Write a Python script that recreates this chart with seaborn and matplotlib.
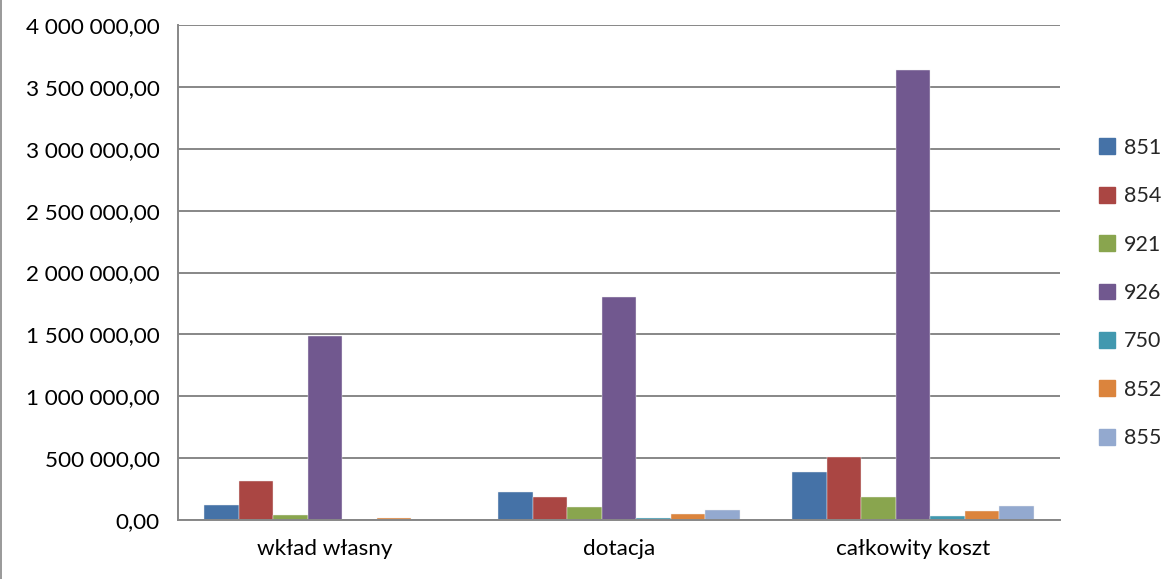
import matplotlib
matplotlib.use("Agg")
import matplotlib.pyplot as plt
import matplotlib.ticker as mticker
from matplotlib.lines import Line2D
import seaborn as sns
import pandas as pd

categories = ["wkład własny", "dotacja", "całkowity koszt"]
series = ["851", "854", "921", "926", "750", "852", "855"]
v851 = [121000, 226000, 388000]
v854 = [313000, 186000, 512000]
v921 = [38000, 105000, 188000]
v926 = [1487000, 1802000, 3636000]
v750 = [0, 19000, 30000]
v852 = [13000, 48000, 73000]
v855 = [0, 83000, 116000]
colors = ["#4572A7", "#AA4643", "#89A54E", "#71588F", "#4198AF", "#DB843D", "#93A9CF"]

values = [v851, v854, v921, v926, v750, v852, v855]
rows = []
for s, vals in zip(series, values):
    for c, v in zip(categories, vals):
        rows.append({"cat": c, "ser": s, "val": v})
df = pd.DataFrame(rows)

sns.set_style("white")
plt.rcParams['font.family'] = ['Lato', 'DejaVu Sans']
FS = 16.2

fig = plt.figure(figsize=(11.66, 5.79), dpi=100)
ax = fig.add_axes([178/1166, 1-520/579, (1060-178)/1166, (520-25)/579])

sns.barplot(data=df, x="cat", y="val", hue="ser", hue_order=series, order=categories,
            palette=colors, width=0.82, gap=0, ax=ax, errorbar=None,
            edgecolor="#f0f0f0", linewidth=0.3, saturation=1)

grid_c = "#878787"
ax.set_ylim(0, 4000000)
ax.set_xlim(-0.5, 2.5)
ax.yaxis.set_major_locator(mticker.MultipleLocator(500000))
def fmt(v, pos):
    s = f"{v:,.2f}"
    return s.replace(",", " ").replace(".", ",")
ax.yaxis.set_major_formatter(mticker.FuncFormatter(fmt))
ax.yaxis.grid(True, color=grid_c, linewidth=1.4)
ax.set_axisbelow(True)
for side in ["top", "right"]:
    ax.spines[side].set_visible(False)
for side in ["left", "bottom"]:
    ax.spines[side].set_color(grid_c)
    ax.spines[side].set_linewidth(1.4)
ax.tick_params(axis="y", direction="out", length=7, width=1.4, color=grid_c,
               labelsize=FS, labelcolor="black", pad=6)
ax.set_xticks([0, 1, 2])
ax.set_xticklabels(categories)
ax.tick_params(axis="x", which="major", length=0, labelsize=FS, labelcolor="black", pad=14)
ax.set_xticks([-0.5, 0.5, 1.5, 2.5], minor=True)
ax.tick_params(axis="x", which="minor", direction="out", length=7, width=1.4, color=grid_c)
ax.set_xlabel("")
ax.set_ylabel("")

handles = [plt.Rectangle((0, 0), 1, 1, color=c) for c in colors]
ax.legend(handles, series, loc="center left", bbox_to_anchor=(1099/1166, 1-293/579),
          bbox_transform=fig.transFigure, frameon=False, fontsize=15.5,
          handlelength=0.75, handleheight=0.75, handletextpad=0.4, labelspacing=1.32,
          borderpad=0, borderaxespad=0)

fig.add_artist(Line2D([1/1166, 1/1166], [0, 1], transform=fig.transFigure, color="#878787", linewidth=1.2))

fig.savefig("out.png", dpi=100)
